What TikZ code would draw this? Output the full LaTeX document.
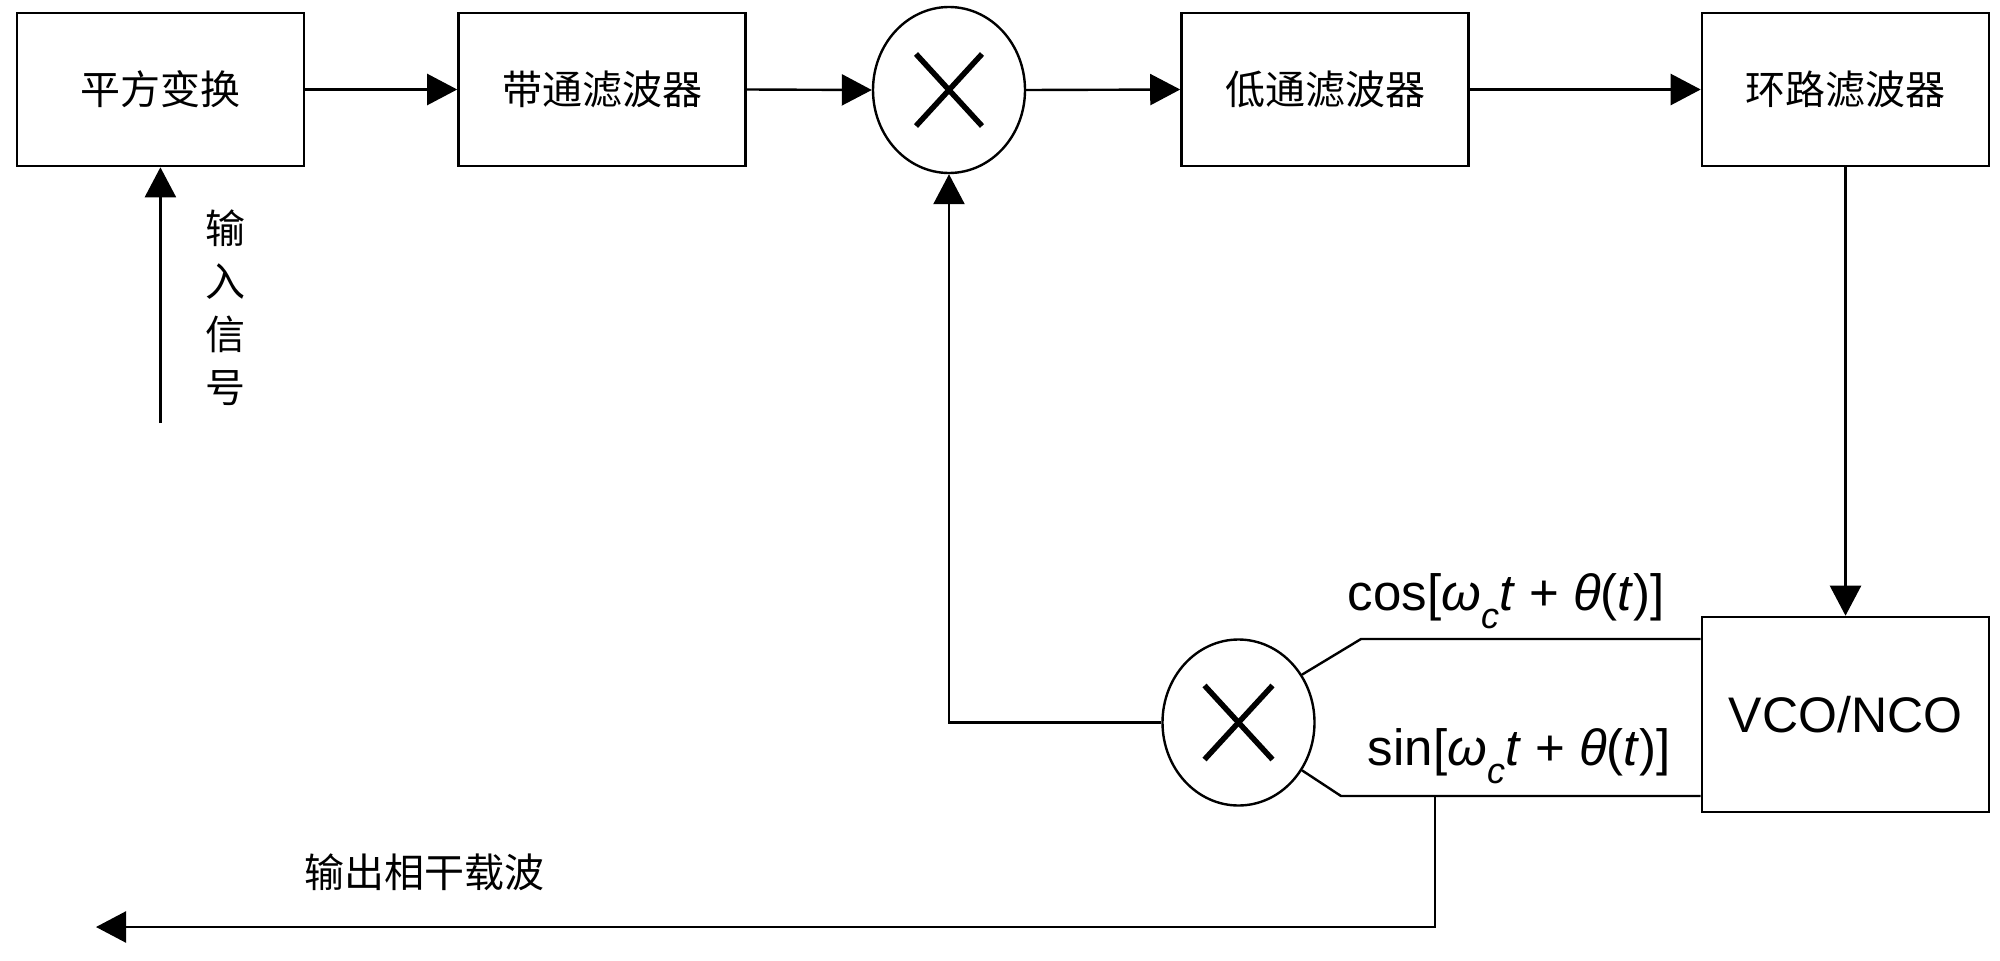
\documentclass[tikz,border=0pt]{standalone}
\usepackage{fontspec}
\setmainfont{Liberation Sans}
\newfontfamily\cjk{Noto Sans CJK SC}
\usetikzlibrary{arrows.meta,shapes.geometric,calc}
\begin{document}
\begin{tikzpicture}[x=1pt,y=-1pt,
  blk/.style={draw,line width=2.6pt,minimum width=287pt,minimum height=153pt,inner sep=0pt,font=\cjk\fontsize{40}{48}\selectfont},
  mult/.style={draw,ellipse,line width=2.4pt,minimum width=152pt,minimum height=166pt,inner sep=0pt},
  xmark/.style={line width=5.5pt},
  wire/.style={line width=2.4pt},
  arr/.style={wire,-{Triangle[length=30pt,width=31pt]}},
  lab/.style={inner sep=0pt,font=\fontsize{51}{58}\selectfont},
  cjklab/.style={inner sep=0pt,font=\cjk\fontsize{40}{53}\selectfont,align=center}]
\useasboundingbox (0,0) rectangle (2000,961);
\fill[white] (0,0) rectangle (2000,961);
% blocks
\node[blk] (b1) at (160.4,89.5) {平方变换};
\node[blk] (b2) at (602,89.5) {带通滤波器};
\node[mult] (m1) at (949,90) {};
\node[blk] (b3) at (1325,89.5) {低通滤波器};
\node[blk] (b4) at (1845.5,89.5) {环路滤波器};
\node[blk,minimum height=195pt,font=\fontsize{50}{58}\selectfont] (vco) at (1845.5,714.5) {VCO/NCO};
\node[mult] (m2) at (1238.5,722.5) {};
% crosses
\draw[xmark] ($(m1.center)+(-33,-36)$) -- ($(m1.center)+(33,36)$);
\draw[xmark] ($(m1.center)+(-33,36)$) -- ($(m1.center)+(33,-36)$);
\draw[xmark] ($(m2.center)+(-34,-37)$) -- ($(m2.center)+(34,37)$);
\draw[xmark] ($(m2.center)+(-34,37)$) -- ($(m2.center)+(34,-37)$);
% forward path
\draw[arr] (b1.east) -- (b2.west);
\draw[arr] (b2.east) -- (m1.west);
\draw[arr] (m1.east) -- (b3.west);
\draw[arr] (b3.east) -- (b4.west);
\draw[arr] (b4.south) -- (vco.north);
% input
\coordinate (inp) at (160.4,423);
\draw[arr] (inp) -- (b1.south);
\node[cjklab] (inlab) at (225,308) {输\\入\\信\\号};
% VCO outputs
\coordinate (cosk) at (1361,639);
\coordinate (sink) at (1341,796);
\draw[wire] (vco.west |- cosk) -- (cosk) -- (m2.37);
\draw[wire] (vco.west |- sink) -- (sink) -- (m2.-37);
\node[lab,anchor=base east] (coslab) at (1665,610) {cos[\textit{ω}\raisebox{-0.36em}{\fontsize{36}{36}\selectfont\textit{c}}\textit{t} + \textit{θ}(\textit{t})]};
\node[lab,anchor=base east] (sinlab) at (1671,765) {sin[\textit{ω}\raisebox{-0.36em}{\fontsize{36}{36}\selectfont\textit{c}}\textit{t} + \textit{θ}(\textit{t})]};
% feedback
\draw[arr] (m2.west) -| (m1.south);
% output
\coordinate (otap) at (1435,796);
\coordinate (oend) at (96,927);
\draw[arr] (otap) |- (oend);
\node[cjklab] (outlab) at (424,872) {输出相干载波};
\end{tikzpicture}
\end{document}
